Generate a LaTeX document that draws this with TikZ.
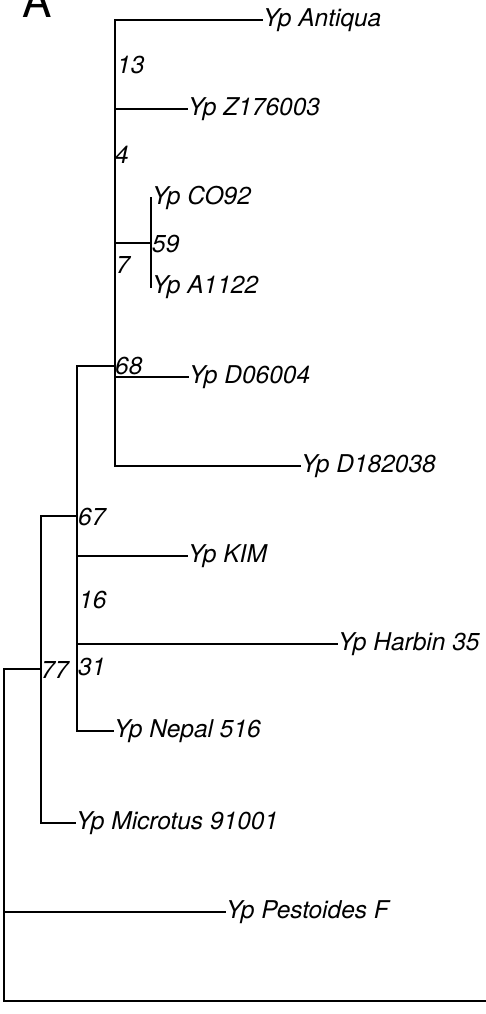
\documentclass[tikz,border=0pt]{standalone}
\usepackage{fontspec}
\setmainfont{TeX Gyre Heros}
\tikzset{
  leaf/.style={anchor=west,inner xsep=1pt,inner ysep=0pt,font=\fontsize{24.5}{24.5}\selectfont\itshape},
  boot/.style={anchor=west,inner sep=0pt,font=\fontsize{24.5}{24.5}\selectfont\itshape},
  branch/.style={line width=1.2pt,line cap=rect}
}
\begin{document}
\begin{tikzpicture}[x=1pt,y=-1pt]
      \useasboundingbox (0,0) rectangle (485,1014);
      \node[anchor=base west,inner sep=0pt,font=\fontsize{44}{44}\selectfont] (panel) at (22,18) {A};
      \path
        (4,669) coordinate (root)
        (41,669) coordinate (b77)
        (77,516) coordinate (b67)
        (115,366) coordinate (b68)
        (151,243) coordinate (b59)
        (485,1001) coordinate (out);
      \path
        (262,20) node[leaf] (antiqua){Yp Antiqua}
        (187,109) node[leaf] (z176003){Yp Z176003}
        (151,198) node[leaf] (co92){Yp CO92}
        (151,287) node[leaf] (a1122){Yp A1122}
        (188,377) node[leaf] (d06004){Yp D06004}
        (300,466) node[leaf] (d182038){Yp D182038}
        (187,556) node[leaf] (kim){Yp KIM}
        (337,644) node[leaf] (harbin){Yp Harbin 35}
        (113,731) node[leaf] (nepal){Yp Nepal 516}
        (75,823) node[leaf] (microtus){Yp Microtus 91001}
        (225,912) node[leaf] (pestoides){Yp Pestoides F};
      \path
        (117,65) node[boot] (s13){13}
        (115,155) node[boot] (s4){4}
        (116,265) node[boot] (s7){7}
        (152,244) node[boot] (s59){59}
        (115,366) node[boot] (s68){68}
        (78,517) node[boot] (s67){67}
        (79,600) node[boot] (s16){16}
        (78,667) node[boot] (s31){31}
        (41,670) node[boot] (s77){77};
      \begin{scope}[branch]
        \draw (b59) |- (co92.west);
        \draw (b59) |- (a1122.west);
        \draw (b68) |- (antiqua.west);
        \draw (b68) |- (z176003.west);
        \draw (b68) |- (b59);
        \draw (b68) |- (d06004.west);
        \draw (b68) |- (d182038.west);
        \draw (b67) |- (b68);
        \draw (b67) |- (kim.west);
        \draw (b67) |- (harbin.west);
        \draw (b67) |- (nepal.west);
        \draw (b77) |- (b67);
        \draw (b77) |- (microtus.west);
        \draw (root) |- (b77);
        \draw (root) |- (pestoides.west);
        \draw (root) |- (out);
      \end{scope}
    \end{tikzpicture}
\end{document}
